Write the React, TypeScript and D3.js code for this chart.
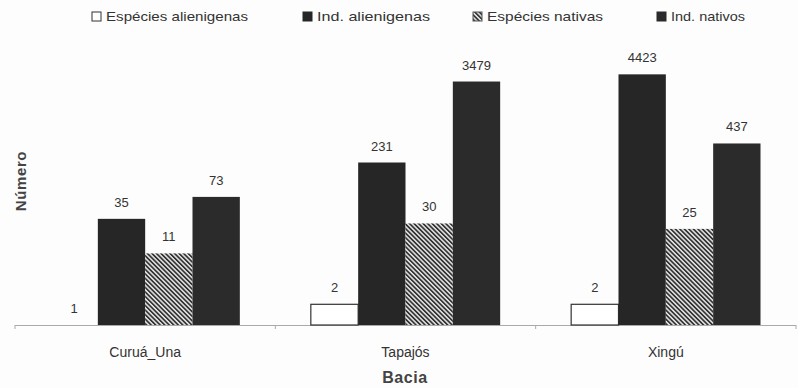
import React from "react";
import * as d3 from "d3";

const categories = ["Curuá_Una", "Tapajós", "Xingú"];
const seriesNames = ["Espécies alienigenas", "Ind. alienigenas", "Espécies nativas", "Ind. nativos"];
const especiesAlienigenas = [1, 2, 2];
const indAlienigenas = [35, 231, 4423];
const especiesNativas = [11, 30, 25];
const indNativos = [73, 3479, 437];
const seriesValues = [especiesAlienigenas, indAlienigenas, especiesNativas, indNativos];
const yTitle = "Número";
const xTitle = "Bacia";

const W = 798;
const H = 388;

export default function App() {
  const x0 = d3.scaleBand<string>().domain(categories).range([15, 796]).paddingInner(0).paddingOuter(0);
  const x1 = d3.scaleBand<string>().domain(seriesNames).range([0, x0.bandwidth()]).paddingInner(0).paddingOuter(0.75);
  const y = d3.scaleLog().domain([1, 10000]).range([325, 50]);

  const fills = ["#ffffff", "#262626", "url(#hatch)", "#2b2b2b"];
  const strokes = ["#333", "#262626", "#555", "#2b2b2b"];
  const boundaries = [x0.range()[0], ...categories.map((c) => (x0(c) as number) + x0.bandwidth())];

  const legendX = [92, 303, 473, 657];
  const legendW = [142, 113, 116, 74];
  const font = "'Liberation Sans', Arial, sans-serif";
  const narrow = "'Liberation Sans Narrow', 'Arial Narrow', 'Liberation Sans', sans-serif";

  return (
    <svg width={W} height={H} style={{ position: "absolute", left: 0, top: 0, background: "#fdfdfd" }}>
      <defs>
        <pattern id="hatch" width="3.2" height="3.2" patternUnits="userSpaceOnUse" patternTransform="rotate(-45)">
          <rect width="3.2" height="3.2" fill="#e6e6e6" />
          <rect width="1.7" height="3.2" fill="#333" />
        </pattern>
      </defs>
      <rect width={W} height={H} fill="#fdfdfd" />

      {/* legend */}
      {seriesNames.map((s, i) => (
        <g key={s}>
          <rect x={legendX[i]} y={12} width={9} height={9} fill={fills[i]} stroke={strokes[i]} strokeWidth={1} />
          <text
            x={legendX[i] + 14}
            y={21}
            fontFamily={font}
            fontSize={13}
            fill="#333"
            textLength={legendW[i]}
            lengthAdjust="spacingAndGlyphs"
          >
            {s}
          </text>
        </g>
      ))}

      {/* axis */}
      <line x1={boundaries[0]} x2={boundaries[boundaries.length - 1]} y1={325.5} y2={325.5} stroke="#aaa" strokeWidth={1} />
      {boundaries.map((b, i) => (
        <line key={i} x1={b} x2={b} y1={325} y2={329} stroke="#aaa" strokeWidth={1} />
      ))}

      {/* bars */}
      {categories.map((c, ci) => (
        <g key={c} transform={`translate(${x0(c)},0)`}>
          {seriesNames.map((s, si) => {
            const v = seriesValues[si][ci];
            const top = y(v);
            const bx = x1(s) as number;
            return (
              <g key={s}>
                {v > 1 && (
                  <rect
                    x={bx}
                    y={top}
                    width={x1.bandwidth()}
                    height={325 - top}
                    fill={fills[si]}
                    stroke={si === 0 ? "#333" : "none"}
                    strokeWidth={si === 0 ? 1.2 : 0}
                  />
                )}
                <text
                  x={bx + x1.bandwidth() / 2}
                  y={top - 12}
                  textAnchor="middle"
                  fontFamily={font}
                  fontSize={13}
                  fill="#333"
                >
                  {v}
                </text>
              </g>
            );
          })}
          <text
            x={x0.bandwidth() / 2}
            y={357}
            textAnchor="middle"
            fontFamily={narrow}
            fontSize={14}
            fill="#333"
          >
            {c}
          </text>
        </g>
      ))}

      {/* titles */}
      <text
        transform={`translate(26,181) rotate(-90)`}
        textAnchor="middle"
        fontFamily={font}
        fontSize={15}
        fontWeight="bold"
        fill="#444"
        letterSpacing={0.6}
      >
        {yTitle}
      </text>
      <text x={405} y={383} textAnchor="middle" fontFamily={font} fontSize={16} fontWeight="bold" fill="#444" letterSpacing={0.6}>
        {xTitle}
      </text>
    </svg>
  );
}
